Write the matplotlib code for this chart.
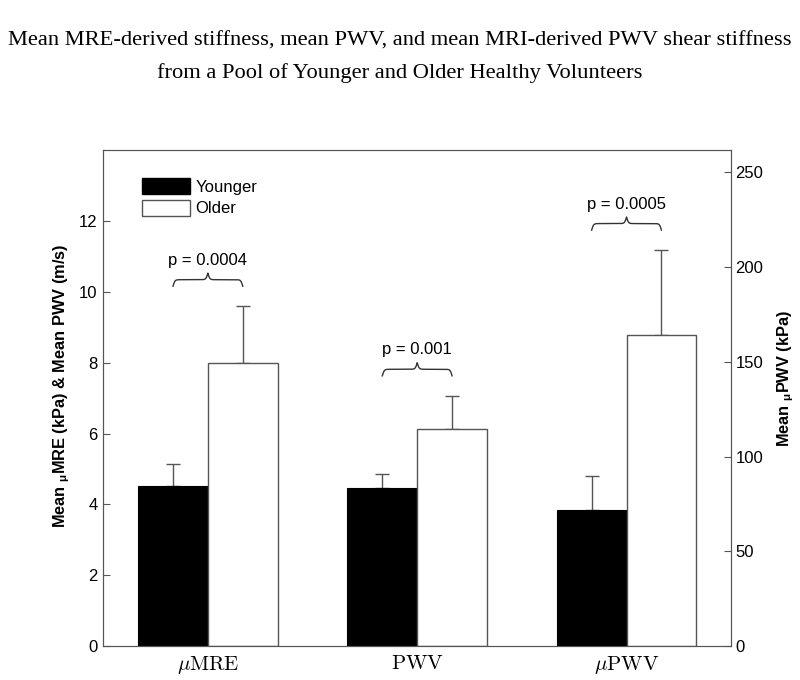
import matplotlib
matplotlib.use('Agg')
import matplotlib.pyplot as plt
from matplotlib.patches import Patch
import numpy as np

# values
groups = [r'$\mu\mathrm{MRE}$', r'$\mathrm{PWV}$', r'$\mu\mathrm{PWV}$']
younger_left = [4.53, 4.45]      # kPa, m/s (left axis)
younger_left_err = [0.62, 0.42]
older_left = [8.0, 6.14]
older_left_err = [1.6, 0.93]
younger_kpa = [72.0]            # right axis
younger_kpa_err = [17.5]
older_kpa = [164.0]
older_kpa_err = [45.0]
p_labels = ['p = 0.0004', 'p = 0.001', 'p = 0.0005']

plt.rcParams['font.family'] = 'Liberation Sans'
plt.rcParams['mathtext.fontset'] = 'cm'

GREY = '#555555'
LEFT_TOP = 14.0
RIGHT_TOP = 261.6
scale = RIGHT_TOP / LEFT_TOP


def brace(ax, x0, x1, y, h, beta=220):
    """ Draw a horizontal curly brace between x0 and x1 with its ends at y. """
    xs = np.linspace(x0, x1, 401)
    half = xs[:201]
    yh = 1 / (1 + np.exp(-beta * (half - half[0]))) + 1 / (1 + np.exp(-beta * (half - half[-1])))
    yy = np.concatenate((yh, yh[-2::-1]))
    ax.plot(xs, y + (yy - 0.5) * h, color='#333333', lw=1.0, clip_on=False)


fig = plt.figure(figsize=(8, 6.8), dpi=100)
ax = fig.add_axes([0.129, 0.05, 0.785, 0.729])
ax2 = ax.twinx()

w = 1 / 3
x = np.arange(len(groups))
ekw = dict(fmt='none', ecolor=GREY, elinewidth=1, capsize=5, capthick=1)

ax.bar(x[:2] - w / 2, younger_left, w, color='black', edgecolor='black', lw=0.8, zorder=2)
ax.bar(x[:2] + w / 2, older_left, w, color='white', edgecolor=GREY, lw=1, zorder=2)
ax.errorbar(x[:2] - w / 2, younger_left, yerr=[[0, 0], younger_left_err], zorder=1, **ekw)
ax.errorbar(x[:2] + w / 2, older_left, yerr=[[0, 0], older_left_err], zorder=1, **ekw)

ax2.bar(x[2:] - w / 2, younger_kpa, w, color='black', edgecolor='black', lw=0.8, zorder=2)
ax2.bar(x[2:] + w / 2, older_kpa, w, color='white', edgecolor=GREY, lw=1, zorder=2)
ax2.errorbar(x[2:] - w / 2, younger_kpa, yerr=[[0], younger_kpa_err], zorder=1, **ekw)
ax2.errorbar(x[2:] + w / 2, older_kpa, yerr=[[0], older_kpa_err], zorder=1, **ekw)

# braces and p values above the older bars
tops = [m + e for m, e in zip(older_left, older_left_err)]
tops += [(m + e) / scale for m, e in zip(older_kpa, older_kpa_err)]
for i, (top, lab) in enumerate(zip(tops, p_labels)):
    brace(ax, x[i] - w / 2, x[i] + w / 2, top + 0.56, 0.37)
    ax.text(x[i], top + 1.08, lab, ha='center', va='bottom', fontsize=12)

ax.set_xlim(-0.5, 2.5)
ax.set_ylim(0, LEFT_TOP)
ax2.set_ylim(0, RIGHT_TOP)
ax.set_xticks(x)
ax.set_xticklabels(groups, fontsize=15)
ax.set_yticks(np.arange(0, 13, 2))
ax2.set_yticks(np.arange(0, 251, 50))
ax.tick_params(axis='x', length=0, pad=6)
ax.tick_params(axis='y', direction='in', length=5, color=GREY, labelsize=12, pad=4)
ax2.tick_params(axis='y', direction='in', length=5, color=GREY, labelsize=12, pad=3)
for a in (ax, ax2):
    for s in a.spines.values():
        s.set_color(GREY)

ax.set_ylabel(r'Mean $\mathregular{{}_{μ}}$MRE (kPa) & Mean PWV (m/s)', fontsize=11.8,
              fontweight='bold')
ax.yaxis.set_label_coords(-0.05, 0.524)
ax2.set_ylabel(r'Mean $\mathregular{{}_{μ}}$PWV (kPa)', fontsize=11.8, fontweight='bold')
ax2.yaxis.set_label_coords(1.071, 0.54)

handles = [Patch(facecolor='black', edgecolor='black'), Patch(facecolor='white', edgecolor=GREY)]
ax.legend(handles, ['Younger', 'Older'], loc='upper left', bbox_to_anchor=(0.062, 0.944),
          frameon=False, fontsize=12, handlelength=2.9, handleheight=1.1,
          borderpad=0, borderaxespad=0, handletextpad=0.3, labelspacing=0.3)

fig.text(0.5, 0.940, 'Mean MRE-derived stiffness, mean PWV, and mean MRI-derived PWV shear stiffness',
         ha='center', va='center', fontsize=16.2, family='Liberation Serif')
fig.text(0.5, 0.893, 'from a Pool of Younger and Older Healthy Volunteers',
         ha='center', va='center', fontsize=16.2, family='Liberation Serif')

fig.savefig('out.png', dpi=100)
